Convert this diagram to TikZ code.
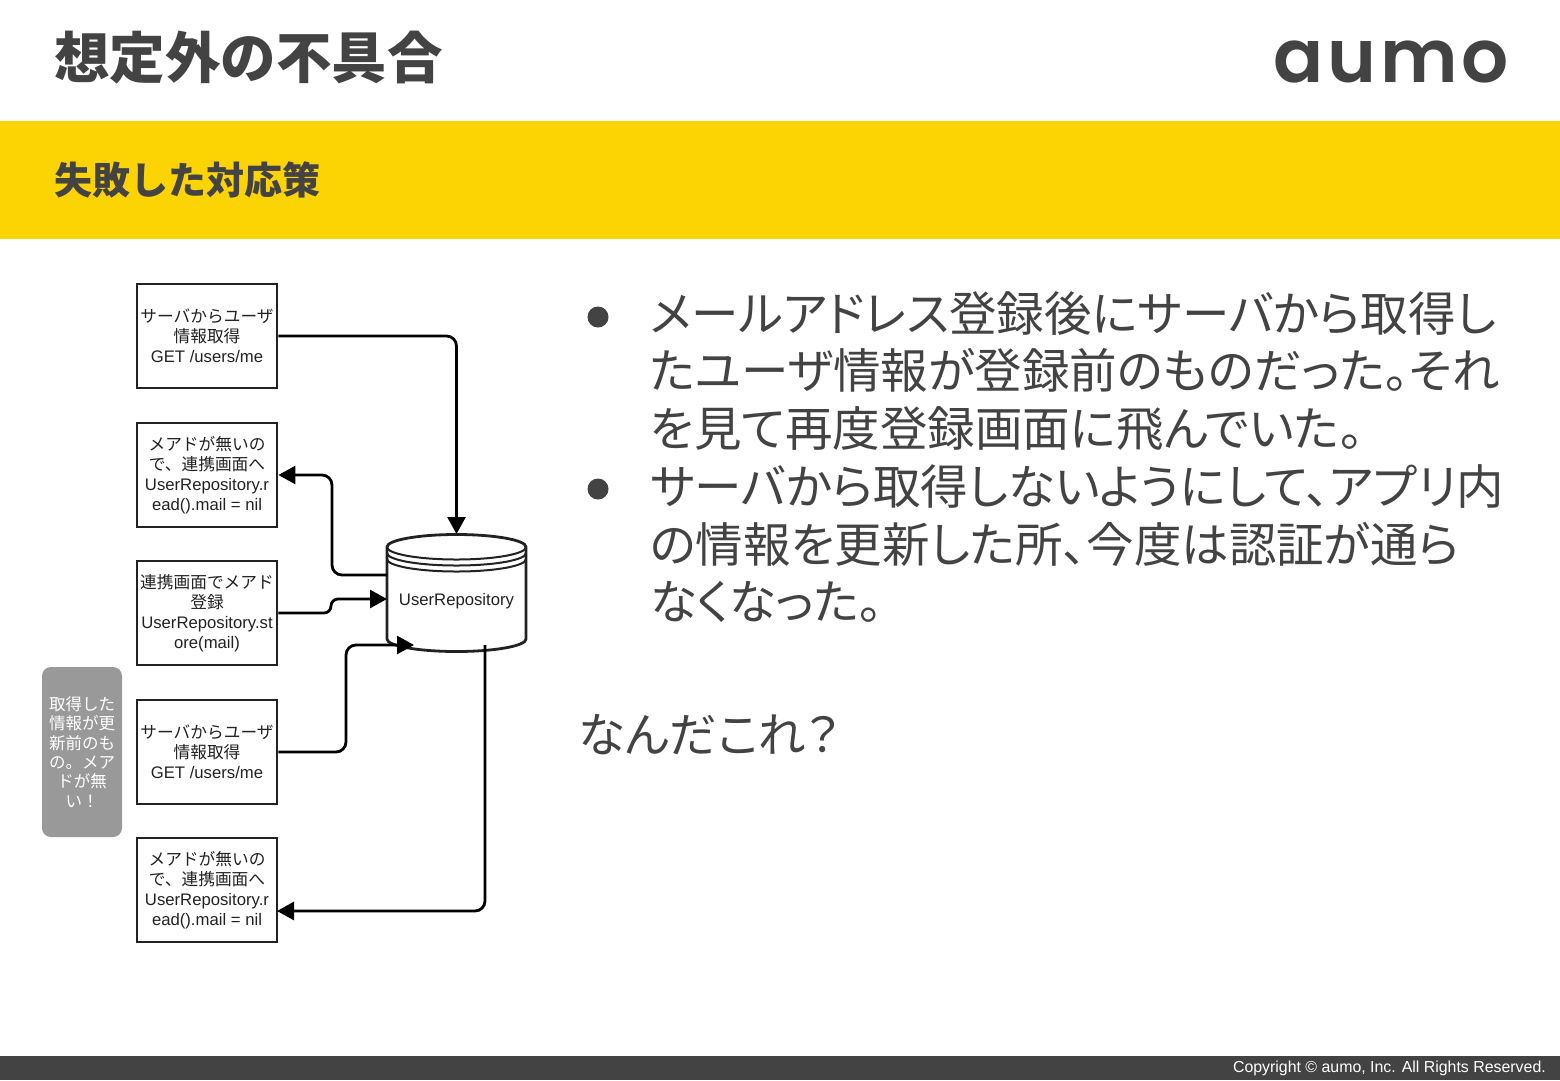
\documentclass[tikz,border=0pt]{standalone}
\usepackage{fontspec}
\setmainfont{Liberation Sans}
\newfontfamily\cjk{Noto Sans CJK JP}
\newfontfamily\cjkbody[RawFeature=+palt]{Noto Sans CJK JP}
\newfontfamily\logofont[LetterSpace=5,BoldFont={Poppins SemiBold}]{Poppins}
\usetikzlibrary{arrows.meta}
\definecolor{inkgray}{HTML}{434343}
\definecolor{bandyellow}{HTML}{FCD303}
\definecolor{notegray}{HTML}{999999}
\definecolor{linedark}{HTML}{222222}
\newcommand{\jp}[1]{{\cjk #1}}
\tikzset{
    flowbox/.style={draw=linedark, line width=2.8pt, minimum width=140pt, minimum height=104pt, inner sep=0pt, align=center, text=linedark, font=\fontsize{16.7}{20}\selectfont},
    conn/.style={draw=black, line width=2.8pt, rounded corners=10pt, -{Triangle[length=17pt,width=18pt]}},
    bodytext/.style={anchor=west, align=left, inner sep=0pt, text=inkgray, font=\cjkbody\fontsize{47.5}{57.5}\selectfont},
    bulletdot/.style={circle, fill=inkgray, minimum size=21pt, inner sep=0pt}
}
\begin{document}
\begin{tikzpicture}[x=1pt, y=-1pt]
    \useasboundingbox (0,0) rectangle (1560,1080);

    % Bands
    \fill[white] (0,0) rectangle (1560,1080);
    \fill[bandyellow] (0,121) rectangle (1560,239);
    \fill[inkgray] (0,1056) rectangle (1560,1080);

    % Headings
    \node[anchor=west, inner sep=0pt, text=inkgray, font=\cjk\bfseries\fontsize{55.5}{60}\selectfont] (title) at (54,58) {想定外の不具合};
    \node[anchor=west, inner sep=0pt, text=inkgray, font=\cjk\bfseries\fontsize{38}{44}\selectfont] (subtitle) at (54,180) {失敗した対応策};
    \node[anchor=east, inner sep=0pt, text=inkgray, font=\logofont\bfseries\fontsize{74}{90}\selectfont] (logo) at (1509,62) {aumo};
    \node[anchor=east, inner sep=0pt, text=white, font=\fontsize{15.9}{20}\selectfont] (copyright) at (1546,1068) {Copyright © aumo, Inc. All Rights Reserved.};

    % Flow boxes
    \def\getlabel{\jp{サーバからユーザ}\\\jp{情報取得}\\GET /users/me}
    \def\maillabel{\jp{メアドが無いの}\\\jp{で、連携画面へ}\\UserRepository.r\\ead().mail = nil}
    \def\linklabel{\jp{連携画面でメアド}\\\jp{登録}\\UserRepository.st\\ore(mail)}
    \foreach \nm/\ypos/\txt in {getone/336/\getlabel, mailone/475/\maillabel, link/613/\linklabel, gettwo/752/\getlabel, mailtwo/890/\maillabel} {
        \node[flowbox] (\nm) at (207,\ypos) {\txt};
    }

    % Note beside the boxes
    \node[fill=notegray, rounded corners=9pt, minimum width=80pt, minimum height=170pt, inner sep=0pt, align=center, text=white, font=\cjk\fontsize{16.5}{19.4}\selectfont] (note) at (82,752)
        {取得した\\情報が更\\新前のも\\の。メア\\ドが無\\い！};

    % Repository drum
    \def\rx{69.5}
    \def\ry{12.5}
    \draw[draw=linedark, line width=2.8pt, fill=white]
        (387,547) arc[start angle=180, end angle=0, x radius=\rx, y radius=-\ry]
        -- (526,639) arc[start angle=360, end angle=180, x radius=\rx, y radius=-\ry] -- cycle;
    \foreach \off in {0,6,12} {
        \draw[draw=linedark, line width=2pt] (387,547+\off) arc[start angle=180, end angle=360, x radius=\rx, y radius=-\ry];
    }
    \node[minimum width=139pt, minimum height=104pt, inner sep=0pt, text=linedark, font=\fontsize{16.7}{20}\selectfont] (repo) at (456.5,601) {UserRepository};

    % Connectors
    \coordinate (repotop) at (456.5,534);
    \coordinate (repoout) at (387,575);
    \coordinate (turnone) at (332,575);
    \coordinate (repoin) at (387,599);
    \coordinate (turntwo) at (331,599);
    \coordinate (repobase) at (414,645);
    \coordinate (turnthree) at (346,645);
    \coordinate (repodown) at (485,645);
    \coordinate (mailin) at (277,911);
    \draw[conn] (getone.east) -| (repotop);
    \draw[conn] (repoout) -- (turnone) |- (mailone.east);
    \draw[conn, rounded corners=7pt] (link.east) -| (turntwo) -- (repoin);
    \draw[conn] (gettwo.east) -| (turnthree) -- (repobase);
    \draw[conn] (repodown) |- (mailin);

    % Body text
    \node[bulletdot] (dotone) at (598,317) {};
    \node[bulletdot] (dottwo) at (598,489) {};
    \node[bodytext] (itemone) at (650,371)
        {メールアドレス登録後にサーバから取得し\\たユーザ情報が登録前のものだった。それ\\を見て再度登録画面に飛んでいた。};
    \node[bodytext] (itemtwo) at (650,544)
        {サーバから取得しないようにして、アプリ内\\の情報を更新した所、今度は認証が通ら\\なくなった。};
    \node[bodytext] (remark) at (578,735) {なんだこれ？};
\end{tikzpicture}
\end{document}
